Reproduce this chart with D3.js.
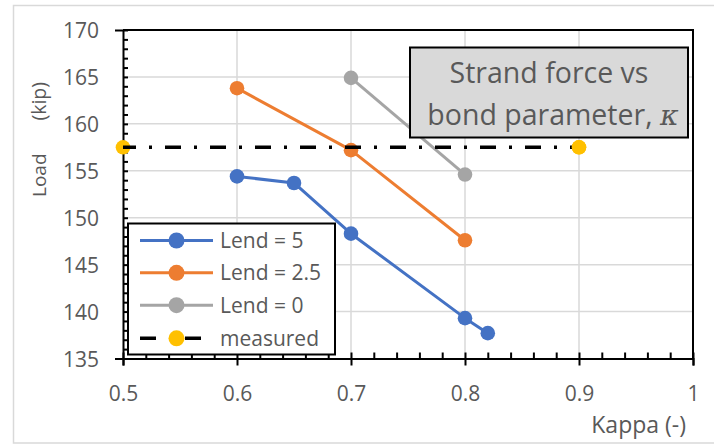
<!DOCTYPE html>
<html>
<head>
<meta charset="utf-8">
<script src="https://cdn.jsdelivr.net/npm/d3@7"></script>
<style>
  html, body { margin: 0; padding: 0; background: #fff; }
  svg { display: block; }
</style>
</head>
<body>
<div id="chart"></div>
<script>
// ---- data ----
const seriesNames = ["Lend = 5", "Lend = 2.5", "Lend = 0", "measured"];
const kappaLend5 = [0.6, 0.65, 0.7, 0.8, 0.82];
const loadLend5 = [154.4, 153.7, 148.3, 139.3, 137.7];
const kappaLend25 = [0.6, 0.7, 0.8];
const loadLend25 = [163.8, 157.2, 147.6];
const kappaLend0 = [0.7, 0.8];
const loadLend0 = [164.9, 154.6];
const kappaMeasured = [0.5, 0.9];
const loadMeasured = [157.5, 157.5];
const xTicks = [0.5, 0.6, 0.7, 0.8, 0.9, 1.0];
const xTickLabels = ["0.5", "0.6", "0.7", "0.8", "0.9", "1"];
const yTicks = [135, 140, 145, 150, 155, 160, 165, 170];
const yTickLabels = ["135", "140", "145", "150", "155", "160", "165", "170"];
const xTitle = "Kappa (-)";
const yTitleParts = ["Load", "(kip)"];
const boxLine1 = "Strand force vs";
const boxLine2 = "bond parameter, ";
const boxSymbol = "κ";

// ---- layout ----
const W = 714, H = 445;
const L = 123, R = 693, T = 30, B = 358.5;
const colors = ["#4472C4", "#ED7D31", "#A5A5A5", "#FFC000"];
const FONT = "'Open Sans', 'Liberation Sans', Arial, sans-serif";
const TXT = "#595959";

const svg = d3.select("#chart").append("svg").attr("width", W).attr("height", H);
svg.append("rect").attr("width", W).attr("height", H).attr("fill", "#fff");
// outer chart border
svg.append("rect").attr("x", 13.5).attr("y", 5.5).attr("width", 760).attr("height", 437.5)
  .attr("fill", "none").attr("stroke", "#d9d9d9").attr("stroke-width", 1.5);

const x = d3.scaleLinear().domain([0.5, 1.0]).range([L, R]);
const y = d3.scaleLinear().domain([135, 170]).range([B, T]);

// gridlines
const grid = svg.append("g");
grid.selectAll(".vg").data(xTicks.slice(1)).join("line")
  .attr("x1", d => x(d)).attr("x2", d => x(d)).attr("y1", T).attr("y2", B)
  .attr("stroke", "#d9d9d9").attr("stroke-width", 1.5);
grid.selectAll(".hg").data(yTicks.slice(1)).join("line")
  .attr("x1", L).attr("x2", R).attr("y1", d => y(d)).attr("y2", d => y(d))
  .attr("stroke", "#d9d9d9").attr("stroke-width", 1.5);

// plot border (top, right)
svg.append("line").attr("x1", L).attr("x2", R + 1).attr("y1", T).attr("y2", T).attr("stroke", "#000").attr("stroke-width", 2);
svg.append("line").attr("x1", R).attr("x2", R).attr("y1", T).attr("y2", B).attr("stroke", "#000").attr("stroke-width", 2);

// axes with d3 axis generators
const xMinor = d3.range(0, 26).map(i => 0.5 + i * 0.02).filter((d, i) => i % 5 !== 0);
const yMinor = d3.range(135, 171).filter(d => d % 5 !== 0);

const xAxisMajor = svg.append("g").attr("transform", `translate(0,${B})`)
  .call(d3.axisBottom(x).tickValues(xTicks).tickFormat((d, i) => xTickLabels[i]).tickSize(7));
xAxisMajor.select(".domain").attr("stroke", "#000").attr("stroke-width", 2);
xAxisMajor.selectAll(".tick line").attr("stroke", "#000").attr("stroke-width", 2).attr("y1", -6);
xAxisMajor.selectAll(".tick text").style("font-size", "21px").style("fill", TXT)
  .style("font-family", FONT).attr("dy", null).attr("y", 42);

const xAxisMinor = svg.append("g").attr("transform", `translate(0,${B})`)
  .call(d3.axisTop(x).tickValues(xMinor).tickFormat("").tickSize(6));
xAxisMinor.select(".domain").remove();
xAxisMinor.selectAll(".tick line").attr("stroke", "#000").attr("stroke-width", 2);

const yAxisMajor = svg.append("g").attr("transform", `translate(${L},0)`)
  .call(d3.axisLeft(y).tickValues(yTicks).tickFormat((d, i) => yTickLabels[i]).tickSize(8));
yAxisMajor.select(".domain").attr("stroke", "#000").attr("stroke-width", 2);
yAxisMajor.selectAll(".tick line").attr("stroke", "#000").attr("stroke-width", 2).attr("x2", 5);
yAxisMajor.selectAll(".tick text").style("font-size", "21px").style("fill", TXT)
  .style("font-family", FONT).attr("dy", "0.36em").attr("x", -24);

const yAxisMinor = svg.append("g").attr("transform", `translate(${L},0)`)
  .call(d3.axisRight(y).tickValues(yMinor).tickFormat("").tickSize(5));
yAxisMinor.select(".domain").remove();
yAxisMinor.selectAll(".tick line").attr("stroke", "#000").attr("stroke-width", 2);

// axis titles
svg.append("text").attr("transform", "translate(46,197) rotate(-90)")
  .attr("text-anchor", "start").style("font-size", "19px")
  .style("fill", TXT).style("font-family", FONT).text(yTitleParts[0]);
svg.append("text").attr("transform", "translate(46,82) rotate(-90)")
  .attr("text-anchor", "end").style("font-size", "19.5px")
  .style("fill", TXT).style("font-family", FONT).text(yTitleParts[1]);
svg.append("text").attr("x", 686).attr("y", 433).attr("text-anchor", "end")
  .style("font-size", "23px").style("fill", TXT).style("font-family", FONT).text(xTitle);

// series
const series = [
  { xs: kappaLend5, ys: loadLend5 },
  { xs: kappaLend25, ys: loadLend25 },
  { xs: kappaLend0, ys: loadLend0 },
  { xs: kappaMeasured, ys: loadMeasured }
];
const line = d3.line().x(d => x(d[0])).y(d => y(d[1]));
series.forEach((s, i) => {
  const pts = s.xs.map((v, j) => [v, s.ys[j]]);
  const g = svg.append("g");
  if (i < 3) {
    g.append("path").attr("d", line(pts)).attr("fill", "none")
      .attr("stroke", colors[i]).attr("stroke-width", 3).attr("stroke-linejoin", "round");
  }
  g.selectAll("circle").data(pts).join("circle")
    .attr("cx", d => x(d[0])).attr("cy", d => y(d[1])).attr("r", 7.3).attr("fill", colors[i]);
  if (i === 3) {
    g.append("path").attr("d", line(pts)).attr("fill", "none")
      .attr("stroke", "#000").attr("stroke-width", 3.5)
      .attr("stroke-dasharray", "16,13,3,13").attr("stroke-dashoffset", 3);
    g.append("circle").attr("cx", x(pts[1][0])).attr("cy", y(pts[1][1])).attr("r", 7.3).attr("fill", colors[i]);
  }
});

// legend
const lg = svg.append("g");
lg.append("rect").attr("x", 128).attr("y", 223.5).attr("width", 207).attr("height", 131)
  .attr("fill", "#fff").attr("stroke", "#000").attr("stroke-width", 2);
const legendY = [240.5, 272.8, 305.2, 338.3];
seriesNames.forEach((name, i) => {
  const yy = legendY[i];
  const ln = lg.append("line").attr("x1", 140).attr("x2", 213).attr("y1", yy).attr("y2", yy);
  if (i < 3) ln.attr("stroke", colors[i]).attr("stroke-width", 3);
  else ln.attr("stroke", "#000").attr("stroke-width", 3.5).attr("stroke-dasharray", "16,13,3,13");
  lg.append("circle").attr("cx", 176.5).attr("cy", yy).attr("r", 8).attr("fill", colors[i]);
  lg.append("text").attr("x", 220).attr("y", yy).attr("dy", "0.36em")
    .style("font-size", "21px").style("fill", TXT).style("font-family", FONT).text(name);
});

// text box
const tb = svg.append("g");
tb.append("rect").attr("x", 410).attr("y", 47.5).attr("width", 278).attr("height", 90)
  .attr("fill", "#d9d9d9").attr("stroke", "#000").attr("stroke-width", 2);
tb.append("text").attr("x", 549).attr("y", 83).attr("text-anchor", "middle")
  .style("font-size", "28.5px").style("fill", TXT).style("font-family", FONT).text(boxLine1);
const t2 = tb.append("text").attr("x", 553).attr("y", 125).attr("text-anchor", "middle")
  .style("font-size", "28.5px").style("fill", TXT).style("font-family", FONT);
t2.append("tspan").text(boxLine2);
t2.append("tspan").style("font-family", "'DejaVu Serif', 'Liberation Serif', serif")
  .style("font-style", "italic").text(boxSymbol);
</script>
</body>
</html>
